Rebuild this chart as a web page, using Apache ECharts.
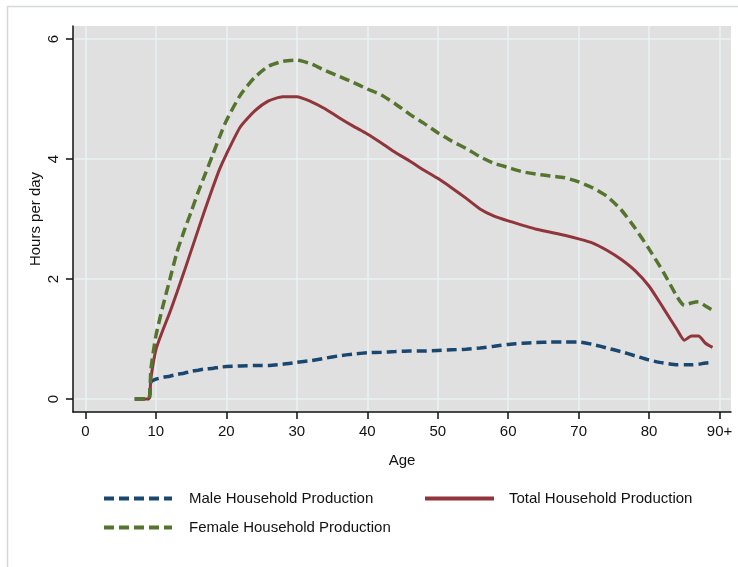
<!DOCTYPE html>
<html>
<head>
<meta charset="utf-8">
<script src="https://cdn.jsdelivr.net/npm/echarts@6/dist/echarts.min.js"></script>
<style>
html,body{margin:0;padding:0;background:#fff;}
#chart{width:738px;height:567px;}
</style>
</head>
<body>
<div id="chart"></div>
<script>
var ages = [7, 8, 9, 9.3, 10, 11, 12, 13, 14, 15, 16, 17, 18, 19, 20, 22, 24, 26, 28, 30, 32, 34, 36, 38, 40, 42, 44, 46, 48, 50, 52, 54, 56, 58, 60, 62, 64, 66, 68, 70, 72, 74, 76, 78, 80, 82, 84, 85, 86, 87, 88, 89];
var maleValues = [0, 0, 0, 0.28, 0.33, 0.36, 0.38, 0.41, 0.43, 0.46, 0.48, 0.50, 0.51, 0.53, 0.54, 0.55, 0.56, 0.56, 0.58, 0.61, 0.64, 0.68, 0.72, 0.75, 0.77, 0.78, 0.79, 0.80, 0.80, 0.81, 0.82, 0.83, 0.85, 0.88, 0.91, 0.93, 0.94, 0.95, 0.95, 0.95, 0.91, 0.85, 0.79, 0.72, 0.65, 0.60, 0.57, 0.57, 0.57, 0.58, 0.60, 0.61];
var totalValues = [0, 0, 0, 0.35, 0.82, 1.15, 1.45, 1.78, 2.12, 2.47, 2.82, 3.17, 3.50, 3.82, 4.08, 4.54, 4.80, 4.97, 5.04, 5.04, 4.96, 4.84, 4.69, 4.55, 4.42, 4.27, 4.11, 3.97, 3.82, 3.68, 3.52, 3.35, 3.17, 3.05, 2.97, 2.90, 2.83, 2.78, 2.73, 2.67, 2.60, 2.48, 2.33, 2.14, 1.88, 1.52, 1.15, 0.98, 1.05, 1.05, 0.93, 0.86];
var femaleValues = [0, 0, 0, 0.50, 1.05, 1.55, 2.00, 2.45, 2.80, 3.12, 3.45, 3.75, 4.05, 4.36, 4.64, 5.07, 5.36, 5.55, 5.63, 5.65, 5.59, 5.48, 5.38, 5.28, 5.17, 5.07, 4.92, 4.75, 4.60, 4.44, 4.30, 4.18, 4.04, 3.93, 3.86, 3.79, 3.75, 3.72, 3.69, 3.62, 3.52, 3.38, 3.16, 2.85, 2.50, 2.12, 1.70, 1.56, 1.60, 1.62, 1.55, 1.48];
var xTicks = [0, 10, 20, 30, 40, 50, 60, 70, 80, 90];
var xTickLabels = ['0', '10', '20', '30', '40', '50', '60', '70', '80', '90+'];
var yTicks = [0, 2, 4, 6];
var seriesNames = ['Male Household Production', 'Total Household Production', 'Female Household Production'];

function pairs(xs, ys) { return xs.map(function (x, i) { return [x, ys[i]]; }); }

var FONT = '"Liberation Sans", Arial, sans-serif';
var chart = echarts.init(document.getElementById('chart'), null, { renderer: 'canvas' });
var txt = { fontFamily: FONT, fontSize: 15, color: '#111' };

function legendCfg(name, left, top, width, gap) {
  return {
    data: [name], left: left, top: top, padding: 0,
    itemWidth: width, itemHeight: 14,
    itemStyle: { opacity: 0 },
    lineStyle: { width: 4 },
    textStyle: Object.assign({ padding: [0, 0, 0, gap] }, txt)
  };
}

chart.setOption({
  animation: false,
  backgroundColor: '#fff',
  textStyle: { fontFamily: FONT },
  graphic: [{
    type: 'rect', silent: true, z: -10,
    shape: { x: 7.5, y: 6.5, width: 760, height: 600 },
    style: { fill: 'none', stroke: '#d3d9da', lineWidth: 1.5 }
  }],
  grid: { left: 73, right: 7, top: 26, bottom: 155, show: true, backgroundColor: '#e0e0e0', borderWidth: 0 },
  xAxis: {
    type: 'value', min: -1.76, max: 91.62,
    name: 'Age', nameLocation: 'middle', nameGap: 41, nameMoveOverlap: false,
    nameTextStyle: txt,
    axisLine: { show: true, onZero: false, lineStyle: { color: '#111', width: 1.5 } },
    axisTick: { show: true, length: 7, customValues: xTicks, lineStyle: { color: '#111', width: 1.5 } },
    axisLabel: Object.assign({ margin: 12, customValues: xTicks,
      formatter: function (v) { return xTickLabels[xTicks.indexOf(v)]; } }, txt),
    splitLine: { show: true, lineStyle: { color: '#ebf2f3', width: 1.5 } }
  },
  yAxis: {
    type: 'value', min: -0.217, max: 6.22,
    name: 'Hours per day', nameLocation: 'middle', nameGap: 30, nameMoveOverlap: false,
    nameTextStyle: txt,
    axisLine: { show: true, onZero: false, lineStyle: { color: '#111', width: 1.5 } },
    axisTick: { show: true, length: 7, customValues: yTicks, lineStyle: { color: '#111', width: 1.5 } },
    axisLabel: Object.assign({ margin: 12, rotate: 90, customValues: yTicks }, txt),
    splitLine: { show: true, lineStyle: { color: '#ebf2f3', width: 1.5 } }
  },
  legend: [
    legendCfg(seriesNames[0], 102, 491, 68, 12),
    legendCfg(seriesNames[1], 423, 491, 69, 10),
    legendCfg(seriesNames[2], 102, 520, 68, 12)
  ],
  series: [
    { name: seriesNames[0], type: 'line', data: pairs(ages, maleValues), symbol: 'none', z: 2,
      smooth: 0.2,
      itemStyle: { color: '#1a476f' },
      lineStyle: { color: '#1a476f', width: 3.5, type: [10, 5] } },
    { name: seriesNames[1], type: 'line', data: pairs(ages, totalValues), symbol: 'none', z: 3,
      smooth: 0.2,
      itemStyle: { color: '#90353b' },
      lineStyle: { color: '#90353b', width: 3 } },
    { name: seriesNames[2], type: 'line', data: pairs(ages, femaleValues), symbol: 'none', z: 4,
      smooth: 0.2,
      itemStyle: { color: '#55752f' },
      lineStyle: { color: '#55752f', width: 3.5, type: [10, 5] } }
  ]
});
</script>
</body>
</html>
